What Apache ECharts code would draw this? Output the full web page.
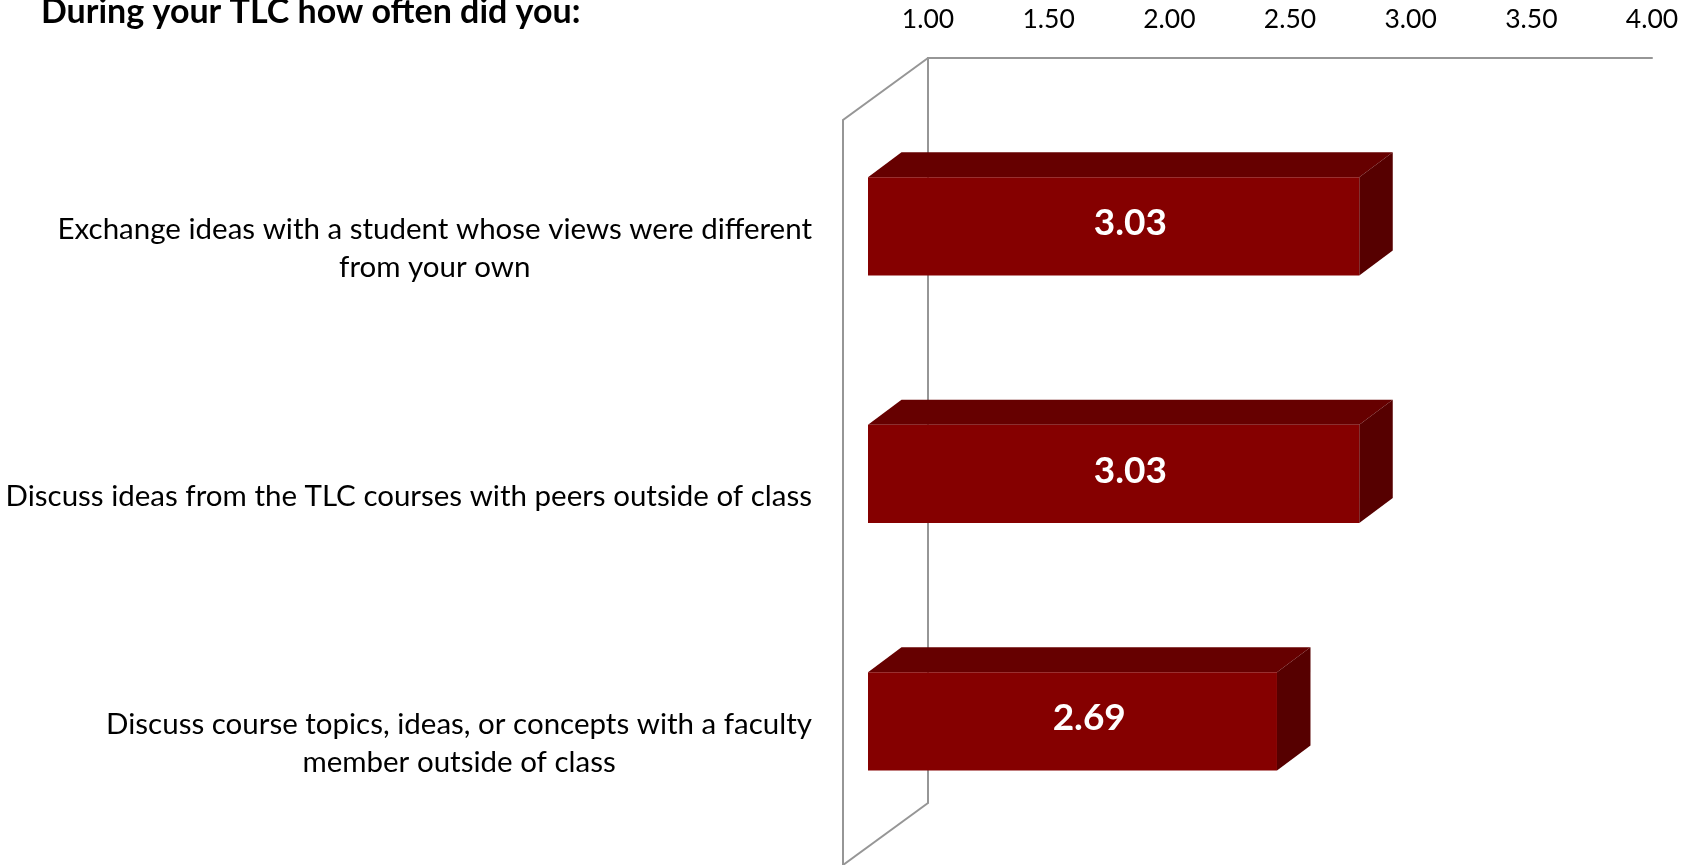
<!DOCTYPE html>
<html><head><meta charset="utf-8">
<script src="https://cdn.jsdelivr.net/npm/echarts@6/dist/echarts.min.js"></script>
<style>html,body{margin:0;padding:0;background:#fff;}#chart{width:1698px;height:865px;}</style>
</head><body><div id="chart"></div>
<script>
const titleText = 'During your TLC how often did you:';
const categories = [
  'Exchange ideas with a student whose views were different\nfrom your own',
  'Discuss ideas from the TLC courses with peers outside of class',
  'Discuss course topics, ideas, or concepts with a faculty\nmember outside of class'
];
const values = [3.03, 3.03, 2.69];
const axisTicks = [1.0, 1.5, 2.0, 2.5, 3.0, 3.5, 4.0];

const FONT = 'Lato, "Open Sans", "Noto Sans", sans-serif';
const mctx = document.createElement('canvas').getContext('2d');
function textW(t, weight, size) { mctx.font = weight + ' ' + size + 'px ' + FONT; return mctx.measureText(t).width; }
function fit(t, weight, target) { return Math.round(2 * 100 * target / textW(t, weight, 100)) / 2; }

const catSize = fit('Exchange ideas with a student whose views were different', 'normal', 756);
const titleSize = fit(titleText, 'bold', 542);
const tickSize = fit('1.00', 'normal', 52);
const valSize = fit('3.03', 'bold', 73);

const FRONT = '#850000', TOP = '#660000', SIDE = '#560000', WALL = '#969696';
const BAR_DX = 33.5, BAR_DY = -25, BAR_LIFT = 20, BAR_RATIO = 0.397;
const WALL_DX = -85, WALL_DY = 62;
const LABEL_GAP = 56, LINE_H = 38, LABEL_DY = 2.5;

const vMin = axisTicks[0], vMax = axisTicks[axisTicks.length - 1], vStep = axisTicks[1] - axisTicks[0];

function renderBar(params, api) {
  const idx = params.dataIndex;
  const cat = api.value(0), val = api.value(1);
  const p0 = api.coord([vMin, cat]);
  const p1 = api.coord([val, cat]);
  const band = api.size([0, 1])[1];
  const h = band * BAR_RATIO;
  const cy = p0[1] - BAR_LIFT;
  const x0 = p0[0], x1 = p1[0], yT = cy - h / 2, yB = cy + h / 2;
  const lines = categories[idx].split('\n');
  const maxW = Math.max.apply(null, lines.map(l => textW(l, 'normal', catSize)));
  return {
    type: 'group',
    children: [
      { type: 'polygon', shape: { points: [[x0, yT], [x0 + BAR_DX, yT + BAR_DY], [x1 + BAR_DX, yT + BAR_DY], [x1, yT]] }, style: { fill: TOP } },
      { type: 'polygon', shape: { points: [[x1, yT], [x1 + BAR_DX, yT + BAR_DY], [x1 + BAR_DX, yB + BAR_DY], [x1, yB]] }, style: { fill: SIDE } },
      { type: 'rect', shape: { x: x0, y: yT, width: x1 - x0, height: h }, style: { fill: FRONT } },
      { type: 'text', x: (x0 + x1 + BAR_DX) / 2, y: cy - 3,
        style: { text: val.toFixed(2), fill: '#fff', fontSize: valSize, fontWeight: 'bold', fontFamily: FONT, align: 'center', verticalAlign: 'middle' } },
      { type: 'text', x: x0 - LABEL_GAP - maxW / 2, y: p0[1] + LABEL_DY,
        style: { text: categories[idx], fill: '#000', fontSize: catSize, fontFamily: FONT, align: 'center', verticalAlign: 'middle', lineHeight: LINE_H } }
    ]
  };
}

function renderWall(params, api) {
  const top = api.coord([vMin, 1]);
  const bot = api.coord([vMin, 0]);
  const ls = { stroke: WALL, lineWidth: 2, fill: null };
  return {
    type: 'group',
    children: [
      { type: 'polyline', shape: { points: [top, [top[0] + WALL_DX, top[1] + WALL_DY], [top[0] + WALL_DX, bot[1] + WALL_DY + 10]] }, style: ls },
      { type: 'line', shape: { x1: bot[0], y1: bot[1], x2: bot[0] + WALL_DX, y2: bot[1] + WALL_DY }, style: ls }
    ]
  };
}

const chart = echarts.init(document.getElementById('chart'), null, { renderer: 'canvas' });
chart.setOption({
  animation: false,
  backgroundColor: '#fff',
  title: { text: titleText, left: 41, top: -5, padding: 0,
    textStyle: { fontSize: titleSize, fontWeight: 'bold', fontFamily: FONT, color: '#000' } },
  grid: [
    { left: 868, top: 122.75, width: 726, height: 745.5 },
    { left: 928, top: 58, width: 724, height: 745 }
  ],
  xAxis: [
    { gridIndex: 0, type: 'value', min: vMin, max: vMax, interval: vStep, show: false },
    { gridIndex: 1, type: 'value', min: vMin, max: vMax, interval: vStep, position: 'top',
      axisLine: { show: true, onZero: false, lineStyle: { color: WALL, width: 2 } },
      axisTick: { show: false }, splitLine: { show: false },
      axisLabel: { margin: 25, color: '#000', fontSize: tickSize, fontFamily: FONT, formatter: v => v.toFixed(2) } }
  ],
  yAxis: [
    { gridIndex: 0, type: 'category', data: categories, inverse: true, show: false },
    { gridIndex: 1, type: 'value', min: 0, max: 1, axisLabel: { show: false }, axisTick: { show: false }, splitLine: { show: false },
      axisLine: { show: true, onZero: false, lineStyle: { color: WALL, width: 2 } } }
  ],
  series: [
    { type: 'custom', xAxisIndex: 1, yAxisIndex: 1, z: 1, silent: true, renderItem: renderWall, data: [[vMin, 0]] },
    { type: 'custom', xAxisIndex: 0, yAxisIndex: 0, z: 5, renderItem: renderBar, encode: { x: 1, y: 0 },
      data: values.map((v, i) => [i, v]) }
  ]
});
</script></body></html>
